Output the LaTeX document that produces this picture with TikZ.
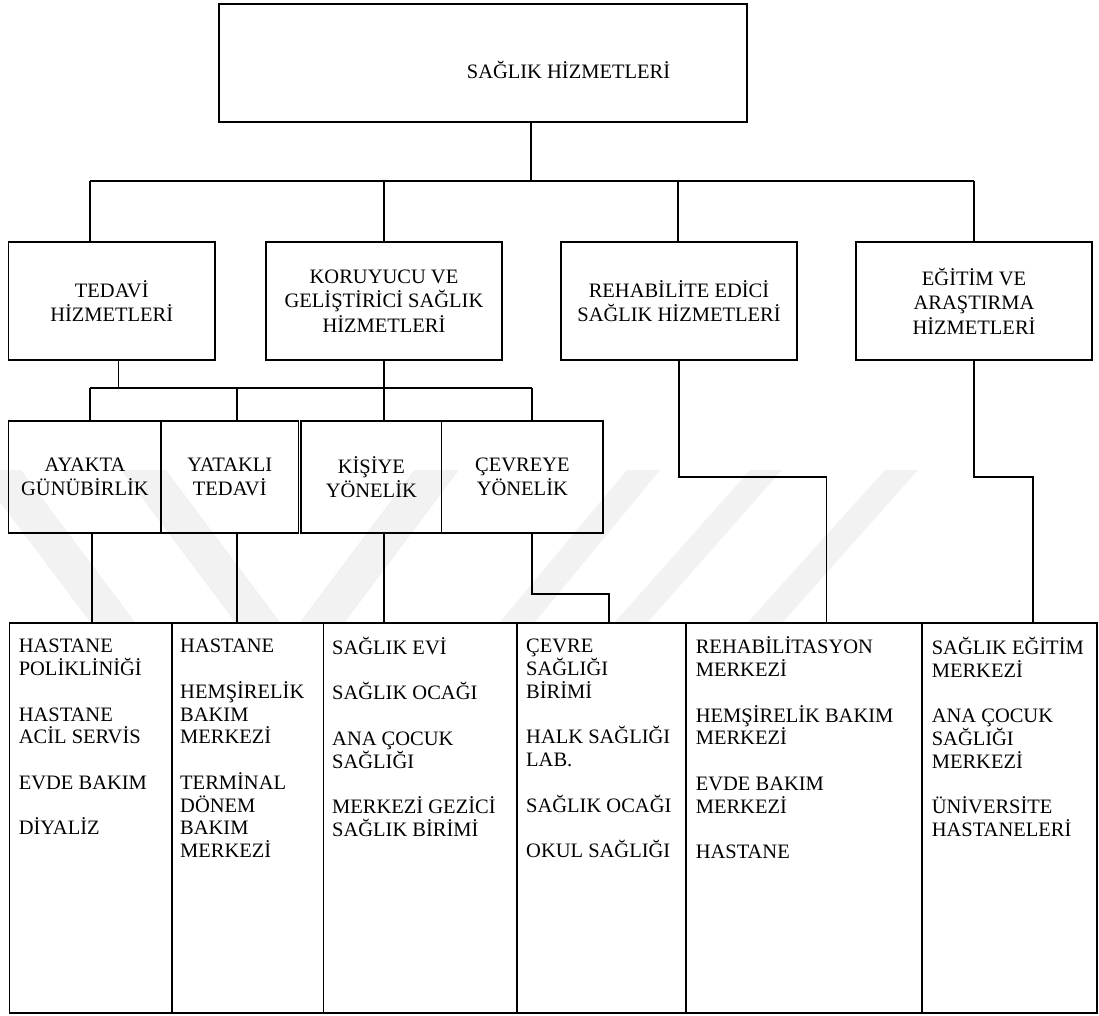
\documentclass[tikz,border=0pt]{standalone}
\usepackage{fontspec}
\setmainfont{Liberation Serif}
\usetikzlibrary{calc}
\begin{document}
\begin{tikzpicture}[x=1pt,y=-1pt,
  box/.style={draw, line width=1.4pt, inner sep=0pt, outer sep=0pt, anchor=north west,
              align=center, font=\fontsize{20.5}{24.5}\selectfont},
  coltext/.style={inner sep=0pt, anchor=north west, align=left,
              font=\fontsize{20.5}{22.75}\selectfont},
  conn/.style={line width=1.2pt},
  wm/.style={fill=black!5, draw=none}]
\useasboundingbox (0,0) rectangle (1099,1016);
% watermark (faint chevrons)
\fill[wm] (0,470) -- (21,470) -- (135,622) -- (90,622) -- (0,502) -- cycle;
\fill[wm] (121,470) -- (166,470) -- (280,622) -- (235,622) -- cycle;
\fill[wm] (414,470) -- (459,470) -- (345,622) -- (300,622) -- cycle;
\fill[wm] (627,470) -- (660,470) -- (535,622) -- (500,622) -- cycle;
\fill[wm] (750,470) -- (782,470) -- (648,622) -- (615,622) -- cycle;
\fill[wm] (885,470) -- (918,470) -- (783,622) -- (748,622) -- cycle;

% level 1
\node[box, minimum width=528pt, minimum height=118pt] (title) at (219,4) {};
\node[inner sep=0pt, anchor=base, font=\fontsize{20.5}{24}\selectfont] (titletext) at (568.5,78.3) {SAĞLIK HİZMETLERİ};

% level 2
\node[box, minimum width=206.5pt, minimum height=118pt] (tedavi) at (8.5,242) {TEDAVİ\\HİZMETLERİ};
\node[box, minimum width=236pt, minimum height=118pt] (koru) at (266,242) {KORUYUCU VE\\GELİŞTİRİCİ SAĞLIK\\HİZMETLERİ};
\node[box, minimum width=236pt, minimum height=118pt] (rehab) at (561,242) {REHABİLİTE EDİCİ\\SAĞLIK HİZMETLERİ};
\node[box, minimum width=236pt, minimum height=118pt] (egitim) at (856,242) {EĞİTİM VE\\ARAŞTIRMA\\HİZMETLERİ};

% level 3
\node[box, minimum width=152.5pt, minimum height=112pt] (ayakta) at (8.7,421) {AYAKTA\\GÜNÜBİRLİK};
\node[box, minimum width=137.5pt, minimum height=112pt] (yatakli) at (161,421) {YATAKLI\\TEDAVİ};
\node[box, minimum width=140.7pt, minimum height=112pt] (kisiye) at (301,421) {KİŞİYE\\YÖNELİK};
\node[box, minimum width=161.3pt, minimum height=112pt] (cevreye) at (441.7,421) {ÇEVREYE\\YÖNELİK};

% level 4 columns
\node[box, minimum width=162.4pt, minimum height=390pt] (c1) at (9.6,623) {};
\node[box, minimum width=151.5pt, minimum height=390pt] (c2) at (172,623) {};
\node[box, minimum width=193.5pt, minimum height=390pt] (c3) at (323.5,623) {};
\node[box, minimum width=169pt, minimum height=390pt] (c4) at (517,623) {};
\node[box, minimum width=236pt, minimum height=390pt] (c5) at (686,623) {};
\node[box, minimum width=175pt, minimum height=390pt] (c6) at (922,623) {};

\node[coltext] (t1) at ($(c1.north west)+(9,13.7)$) {\rule{0pt}{16pt}HASTANE\\POLİKLİNİĞİ\\[22.75pt]HASTANE\\ACİL SERVİS\\[22.75pt]EVDE BAKIM\\[22.75pt]DİYALİZ};
\node[coltext] (t2) at ($(c2.north west)+(8,13.7)$) {\rule{0pt}{16pt}HASTANE\\[22.75pt]HEMŞİRELİK\\BAKIM\\MERKEZİ\\[22.75pt]TERMİNAL\\DÖNEM\\BAKIM\\MERKEZİ};
\node[coltext] (t3) at ($(c3.north west)+(8.5,13.7)$) {\rule{0pt}{16pt}SAĞLIK EVİ\\[22.75pt]SAĞLIK OCAĞI\\[22.75pt]ANA ÇOCUK\\SAĞLIĞI\\[22.75pt]MERKEZİ GEZİCİ\\SAĞLIK BİRİMİ};
\node[coltext] (t4) at ($(c4.north west)+(9,13.7)$) {\rule{0pt}{16pt}ÇEVRE\\SAĞLIĞI\\BİRİMİ\\[22.75pt]HALK SAĞLIĞI\\LAB.\\[22.75pt]SAĞLIK OCAĞI\\[22.75pt]OKUL SAĞLIĞI};
\node[coltext] (t5) at ($(c5.north west)+(9.6,13.7)$) {\rule{0pt}{16pt}REHABİLİTASYON\\MERKEZİ\\[22.75pt]HEMŞİRELİK BAKIM\\MERKEZİ\\[22.75pt]EVDE BAKIM\\MERKEZİ\\[22.75pt]HASTANE};
\node[coltext] (t6) at ($(c6.north west)+(9.6,13.7)$) {\rule{0pt}{16pt}SAĞLIK EĞİTİM\\MERKEZİ\\[22.75pt]ANA ÇOCUK\\SAĞLIĞI\\MERKEZİ\\[22.75pt]ÜNİVERSİTE\\HASTANELERİ};

% connectors level 1 -> 2
\coordinate (j0) at (531,181);
\coordinate (j1) at (90,181);
\coordinate (j2) at (384,181);
\coordinate (j3) at (678,181);
\coordinate (j4) at (974,181);
\draw[conn] (title.south -| j0) -- (j0);
\draw[conn] (j1) -- (j4);
\draw[conn] (j1) -- (j1 |- tedavi.north);
\draw[conn] (j2) -- (j2 |- koru.north);
\draw[conn] (j3) -- (j3 |- rehab.north);
\draw[conn] (j4) -- (j4 |- egitim.north);

% connectors level 2 -> 3
\coordinate (k0) at (118.6,388);
\coordinate (k1) at (90,388);
\coordinate (k2) at (237,388);
\coordinate (k3) at (384,388);
\coordinate (k4) at (532,388);
\draw[conn] (k0 |- tedavi.south) -- (k0);
\draw[conn] (k3 |- koru.south) -- (k3);
\draw[conn] (k1) -- (k4);
\draw[conn] (k1) -- (k1 |- ayakta.north);
\draw[conn] (k2) -- (k2 |- yatakli.north);
\draw[conn] (k3) -- (k3 |- kisiye.north);
\draw[conn] (k4) -- (k4 |- cevreye.north);

% connectors level 3 -> 4
\coordinate (m1) at (92,560);
\coordinate (m2) at (237,560);
\coordinate (m3) at (384,560);
\draw[conn] (m1 |- ayakta.south) -- (m1 |- c1.north);
\draw[conn] (m2 |- yatakli.south) -- (m2 |- c2.north);
\draw[conn] (m3 |- kisiye.south) -- (m3 |- c3.north);
\coordinate (n1) at (532,594);
\coordinate (n2) at (609,594);
\draw[conn] (n1 |- cevreye.south) -- (n1) -- (n2) -- (n2 |- c4.north);

% connectors level 2 -> 4
\coordinate (p1) at (679,477);
\coordinate (p2) at (826.6,477);
\draw[conn] (p1 |- rehab.south) -- (p1) -- (p2) -- (p2 |- c5.north);
\coordinate (q1) at (974,477);
\coordinate (q2) at (1033,477);
\draw[conn] (q1 |- egitim.south) -- (q1) -- (q2) -- (q2 |- c6.north);
\end{tikzpicture}
\end{document}
